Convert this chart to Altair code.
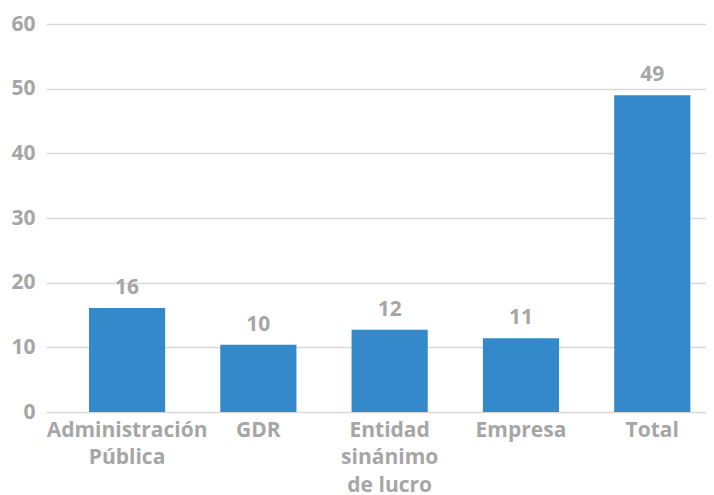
import altair as alt
import pandas as pd

categories = ["Administración|Pública", "GDR", "Entidad|sinánimo|de lucro", "Empresa", "Total"]
values = [16.1, 10.4, 12.7, 11.4, 49.0]
labels = ["16", "10", "12", "11", "49"]
y_ticks = [0, 10, 20, 30, 40, 50, 60]

df = pd.DataFrame({"cat": categories, "val": values, "lab": labels})

FONT = "Open Sans"
GRAY = "#a6a6a6"
BLUE = "#3389c9"

x = alt.X("cat:N", sort=None, title=None,
          scale=alt.Scale(paddingInner=0.42, paddingOuter=0.2233, align=0.733),
          axis=alt.Axis(labelAngle=0, domain=False, ticks=False, labelPadding=7,
                        labelExpr="split(datum.value, '|')", labelLineHeight=27.5,
                        labelFont=FONT, labelFontSize=21, labelFontWeight="bold",
                        labelColor=GRAY))
y = alt.Y("val:Q", title=None,
          scale=alt.Scale(domain=[0, 60], nice=False, zero=True),
          axis=alt.Axis(values=y_ticks, domain=False, ticks=False, labelPadding=11,
                        grid=True, gridColor="#d9d9d9", gridWidth=1.3,
                        labelFont=FONT, labelFontSize=21, labelFontWeight="bold",
                        labelColor=GRAY))

bars = alt.Chart(df).mark_bar(color=BLUE).encode(x=x, y=y)
text = alt.Chart(df).mark_text(dy=-14, baseline="alphabetic", font=FONT, fontSize=21,
                               fontWeight="bold", color=GRAY).encode(
    x=alt.X("cat:N", sort=None), y=alt.Y("val:Q"), text="lab:N")

chart = alt.layer(bars, text).properties(
    width=660, height=388, autosize="none",
    padding={"left": 38, "top": 16, "right": 0, "bottom": 85}
).configure_view(stroke=None)

chart.save("out.html", embed_options={"renderer": "svg", "actions": False})
